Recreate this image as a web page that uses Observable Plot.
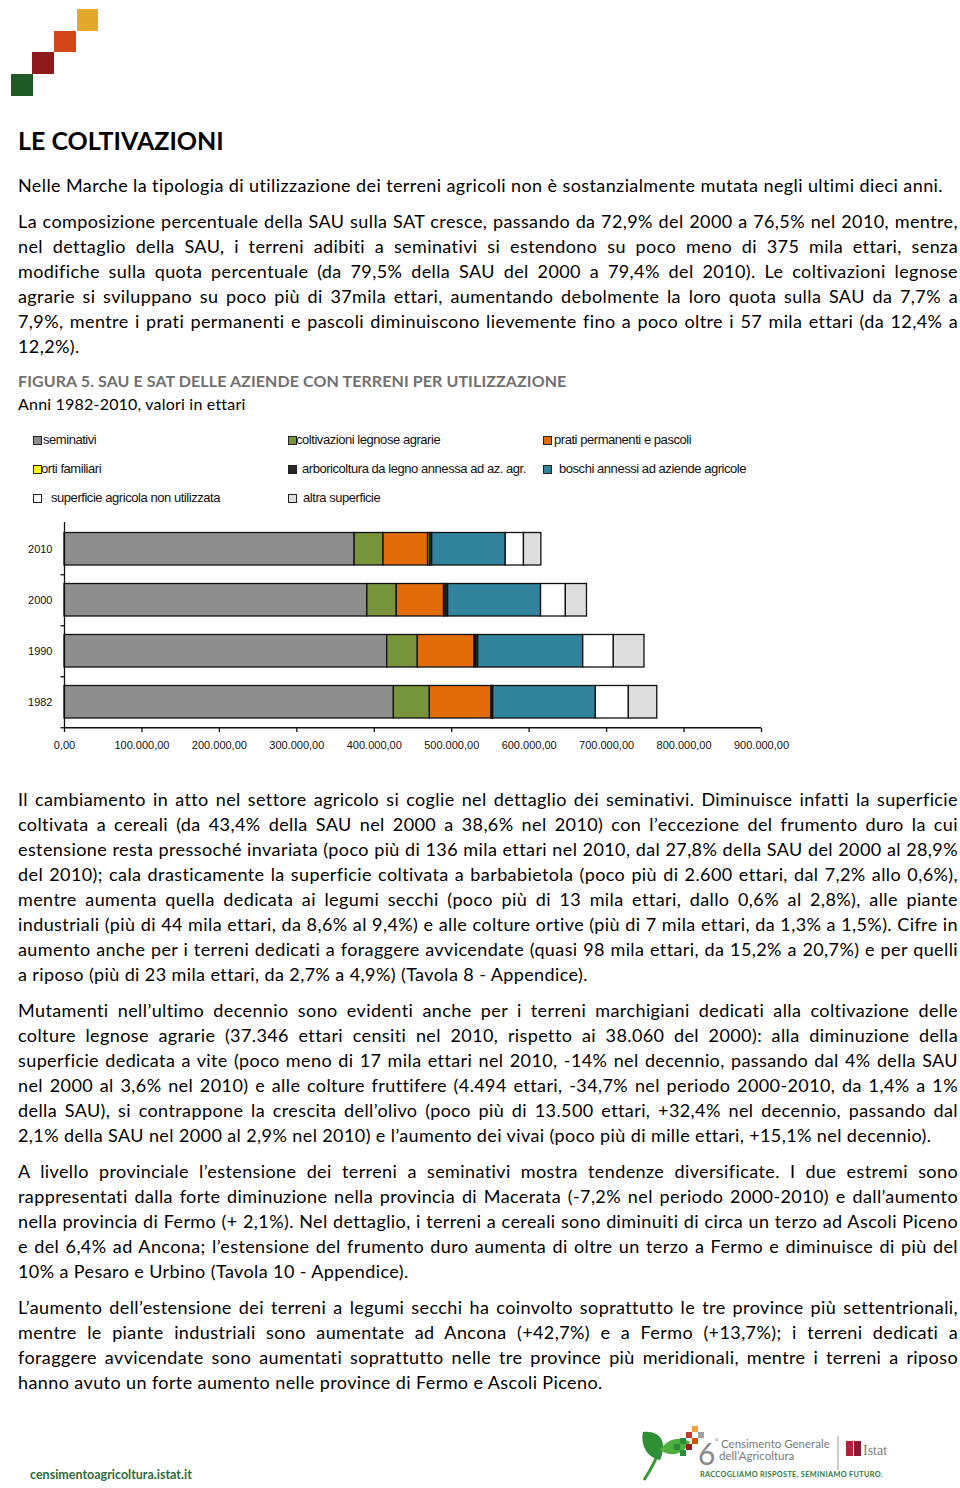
<!DOCTYPE html>
<html><head><meta charset="utf-8">
<script src="https://cdn.jsdelivr.net/npm/d3@7"></script>
<script src="https://cdn.jsdelivr.net/npm/@observablehq/plot@0.6"></script>
<style>
body{margin:0;background:#fff;}
#page{position:relative;width:960px;height:1488px;overflow:hidden;font-family:Lato,"Open Sans",sans-serif;color:#000;background:#fff;}
.ln{position:absolute;left:18px;width:940px;height:25px;line-height:25px;font-size:18px;letter-spacing:0.4px;}
.j{text-align:justify;text-align-last:justify;}
.h1{position:absolute;left:18px;top:124px;font-size:25px;font-weight:bold;line-height:32px;}
.ft{position:absolute;left:18px;top:371px;font-size:16px;font-weight:bold;color:#707070;line-height:20px;letter-spacing:0.1px;}
.fs{position:absolute;left:18px;top:394px;font-size:16px;line-height:20px;letter-spacing:0.2px;}
.lg{position:absolute;font-family:"Liberation Sans",Arial,sans-serif;font-size:13px;letter-spacing:-0.45px;line-height:16px;height:16px;white-space:nowrap;color:#111;}
.sw{position:absolute;width:7px;height:7px;border:1px solid #222;}
#chart{position:absolute;left:0;top:515px;}
</style></head>
<body><div id="page">
<svg style="position:absolute;left:0;top:0" width="120" height="110">
  <rect x="77" y="9" width="21" height="22" fill="#e2a92b"/>
  <rect x="54" y="31" width="22" height="21" fill="#d2461a"/>
  <rect x="32" y="52" width="22" height="22" fill="#8e1b1c"/>
  <rect x="11" y="74" width="22" height="22" fill="#1f5b24"/>
</svg>
<div class="h1">LE COLTIVAZIONI</div>
<div class="ft">FIGURA 5. SAU E SAT DELLE AZIENDE CON TERRENI PER UTILIZZAZIONE</div>
<div class="fs">Anni 1982-2010, valori in ettari</div>
<div id="chart"></div>
<div style="position:absolute;left:30px;top:1467px;font-family:Lato,sans-serif;font-weight:bold;font-size:12.5px;color:#2c6b3c;">censimentoagricoltura.istat.it</div>
<svg style="position:absolute;left:630px;top:1420px" width="270" height="68">
  <path d="M14 60 C 22 48, 26 40, 30 28" stroke="#3b9a3a" stroke-width="3" fill="none"/>
  <path d="M13 12 C 30 10, 38 22, 30 40 C 18 38, 10 26, 13 12 Z" fill="#2f8f34"/>
  <path d="M30 30 C 38 18, 50 16, 60 22 C 54 34, 42 38, 30 30 Z" fill="#4caf3e"/>
  <rect x="56" y="12" width="6" height="6" fill="#c0392b"/><rect x="62" y="6" width="6" height="6" fill="#e9a23b"/>
  <rect x="50" y="18" width="6" height="6" fill="#2e8b3a"/><rect x="56" y="24" width="6" height="6" fill="#9b1c1c"/>
  <rect x="44" y="24" width="6" height="6" fill="#2e8b3a"/><rect x="62" y="18" width="6" height="6" fill="#d35400"/>
  <rect x="50" y="30" width="6" height="6" fill="#2e8b3a"/><rect x="68" y="12" width="6" height="6" fill="#a0a0a0"/>
  <text x="68" y="45" font-family="Lato,sans-serif" font-size="30" fill="#8a8a8a">6</text>
  <text x="85" y="24" font-family="Lato,sans-serif" font-size="8" fill="#7a7a7a">°</text>
  <text x="91" y="28" font-family="Lato,sans-serif" font-size="11.5" fill="#7a7a7a">Censimento Generale</text>
  <text x="89" y="40" font-family="Lato,sans-serif" font-size="11.5" fill="#7a7a7a">dell’Agricoltura</text>
  <line x1="208" y1="16" x2="208" y2="50" stroke="#9a9a9a" stroke-width="1"/>
  <rect x="216" y="21" width="7" height="15" fill="#b3223a"/><rect x="224" y="21" width="7" height="15" fill="#8c1a2e"/>
  <text x="233" y="35" font-family="'Liberation Serif',serif" font-size="14" fill="#7a7a7a">Istat</text>
  <text x="70" y="57" font-family="Lato,sans-serif" font-weight="bold" font-size="7.3" fill="#2c7a3a" letter-spacing="0.35">RACCOGLIAMO RISPOSTE, SEMINIAMO FUTURO.</text>
</svg>
</div>
<script>
// ---------- chart data ----------
const years = ["2010", "2000", "1990", "1982"];
const categories = [
  "seminativi",
  "coltivazioni legnose agrarie",
  "prati permanenti e pascoli",
  "orti familiari",
  "arboricoltura da legno annessa ad az. agr.",
  "boschi annessi ad aziende agricole",
  "superficie agricola non utilizzata",
  "altra superficie"
];
const colors = ["#8e8e8e", "#77933c", "#e36c0a", "#ffff00", "#262626", "#31849b", "#ffffff", "#dedede"];
const seminativi    = [374600, 391000, 416700, 425300];
const legnose       = [37346, 38060, 39500, 46500];
const prati         = [57500, 61000, 73200, 79600];
const orti          = [2300, 1800, 1600, 1000];
const arboricoltura = [3000, 3500, 3200, 1200];
const boschi        = [95000, 120000, 135600, 132500];
const nonUtilizzata = [23500, 32000, 39500, 42600];
const altra         = [22500, 27300, 39600, 36700];
const xTicks = [0, 100000, 200000, 300000, 400000, 500000, 600000, 700000, 800000, 900000];

// ---------- text ----------
const para1 = ["Nelle Marche la tipologia di utilizzazione dei terreni agricoli non è sostanzialmente mutata negli ultimi dieci anni."];
const para2 = [
 "La composizione percentuale della SAU sulla SAT cresce, passando da 72,9% del 2000 a 76,5% nel 2010, mentre,",
 "nel dettaglio della SAU, i terreni adibiti a seminativi si estendono su poco meno di 375 mila ettari, senza",
 "modifiche sulla quota percentuale (da 79,5% della SAU del 2000 a 79,4% del 2010). Le coltivazioni legnose",
 "agrarie si sviluppano su poco più di 37mila ettari, aumentando debolmente la loro quota sulla SAU da 7,7% a",
 "7,9%, mentre i prati permanenti e pascoli diminuiscono lievemente fino a poco oltre i 57 mila ettari (da 12,4% a",
 "12,2%)."];
const paraA = [
 "Il cambiamento in atto nel settore agricolo si coglie nel dettaglio dei seminativi. Diminuisce infatti la superficie",
 "coltivata a cereali (da 43,4% della SAU nel 2000 a 38,6% nel 2010) con l’eccezione del frumento duro la cui",
 "estensione resta pressoché invariata (poco più di 136 mila ettari nel 2010, dal 27,8% della SAU del 2000 al 28,9%",
 "del 2010); cala drasticamente la superficie coltivata a barbabietola (poco più di 2.600 ettari, dal 7,2% allo 0,6%),",
 "mentre aumenta quella dedicata ai legumi secchi (poco più di 13 mila ettari, dallo 0,6% al 2,8%), alle piante",
 "industriali (più di 44 mila ettari, da 8,6% al 9,4%) e alle colture ortive (più di 7 mila ettari, da 1,3% a 1,5%). Cifre in",
 "aumento anche per i terreni dedicati a foraggere avvicendate (quasi 98 mila ettari, da 15,2% a 20,7%) e per quelli",
 "a riposo (più di 23 mila ettari, da 2,7% a 4,9%) (Tavola 8 - Appendice)."];
const paraB = [
 "Mutamenti nell’ultimo decennio sono evidenti anche per i terreni marchigiani dedicati alla coltivazione delle",
 "colture legnose agrarie (37.346 ettari censiti nel 2010, rispetto ai 38.060 del 2000): alla diminuzione della",
 "superficie dedicata a vite (poco meno di 17 mila ettari nel 2010, -14% nel decennio, passando dal 4% della SAU",
 "nel 2000 al 3,6% nel 2010) e alle colture fruttifere (4.494 ettari, -34,7% nel periodo 2000-2010, da 1,4% a 1%",
 "della SAU), si contrappone la crescita dell’olivo (poco più di 13.500 ettari, +32,4% nel decennio, passando dal",
 "2,1% della SAU nel 2000 al 2,9% nel 2010) e l’aumento dei vivai (poco più di mille ettari, +15,1% nel decennio)."];
const paraC = [
 "A livello provinciale l’estensione dei terreni a seminativi mostra tendenze diversificate. I due estremi sono",
 "rappresentati dalla forte diminuzione nella provincia di Macerata (-7,2% nel periodo 2000-2010) e dall’aumento",
 "nella provincia di Fermo (+ 2,1%). Nel dettaglio, i terreni a cereali sono diminuiti di circa un terzo ad Ascoli Piceno",
 "e del 6,4% ad Ancona; l’estensione del frumento duro aumenta di oltre un terzo a Fermo e diminuisce di più del",
 "10% a Pesaro e Urbino (Tavola 10 - Appendice)."];
const paraD = [
 "L’aumento dell’estensione dei terreni a legumi secchi ha coinvolto soprattutto le tre province più settentrionali,",
 "mentre le piante industriali sono aumentate ad Ancona (+42,7%) e a Fermo (+13,7%); i terreni dedicati a",
 "foraggere avvicendate sono aumentati soprattutto nelle tre province più meridionali, mentre i terreni a riposo",
 "hanno avuto un forte aumento nelle province di Fermo e Ascoli Piceno."];

const page = document.getElementById("page");
function addPara(lines, firstCenter) {
  lines.forEach((t, i) => {
    const d = document.createElement("div");
    d.className = "ln" + (i < lines.length - 1 ? " j" : "");
    d.style.top = (firstCenter + 25 * i - 12.5) + "px";
    d.textContent = t;
    page.appendChild(d);
    // keep each line on one row: tighten letter spacing if it would wrap
    let ls = 0.4;
    while (d.scrollHeight > 30 && ls > -1) { ls -= 0.05; d.style.letterSpacing = ls + "px"; }
  });
}
addPara(para1, 185);
addPara(para2, 221);
addPara(paraA, 799);
addPara(paraB, 1010);
addPara(paraC, 1171);
addPara(paraD, 1307);

// ---------- legend (HTML) ----------
const legendCols = [33, 288, 543];
const legendRows = [440, 469, 498];
const legendGap = [10, 8, 11, 8, 14, 16, 18, 15];
categories.forEach((c, i) => {
  const cx = legendCols[i % 3], cy = legendRows[Math.floor(i / 3)];
  const s = document.createElement("div");
  s.className = "sw";
  s.style.left = cx + "px"; s.style.top = (cy - 4.5) + "px"; s.style.background = colors[i];
  page.appendChild(s);
  const t = document.createElement("div");
  t.className = "lg";
  t.style.left = (cx + legendGap[i]) + "px"; t.style.top = (cy - 8) + "px";
  t.textContent = c;
  page.appendChild(t);
});

// ---------- chart ----------
const series = [seminativi, legnose, prati, orti, arboricoltura, boschi, nonUtilizzata, altra];
const rows = years.flatMap((y, i) => categories.map((c, k) => ({year: y, cat: c, value: series[k][i]})));
const it = d3.formatLocale({decimal: ",", thousands: ".", grouping: [3], currency: ["", ""]});
const fmt = it.format(",.2f");
const half = 25.75;

const chart = Plot.plot({
  width: 960, height: 243,
  marginLeft: 64, marginRight: 199, marginTop: 7, marginBottom: 30,
  style: {fontFamily: "'Liberation Sans', Arial, sans-serif", fontSize: "11px", color: "#111", background: "transparent"},
  x: {domain: [0, 900000]},
  y: {domain: years, padding: 0},
  color: {domain: categories, range: colors},
  marks: [
    Plot.barX(rows, Plot.stackX({x: "value", y: "year", fill: "cat", stroke: "#111", strokeWidth: 1.3, insetTop: 9.5, insetBottom: 9})),
    Plot.ruleX([0], {stroke: "#111", strokeWidth: 1.3}),
    Plot.ruleY(["1982"], {x1: 0, x2: 900000, dy: half, stroke: "#111", strokeWidth: 1.3}),
    Plot.ruleY(years, {x1: -4500, x2: 0, dy: half, stroke: "#111", strokeWidth: 1.3}),
    Plot.axisX({ticks: xTicks, tickFormat: fmt, tickSize: 4, tickPadding: 9, stroke: "#111", strokeWidth: 1.3, label: null}),
    Plot.axisY({tickSize: 0, tickPadding: 12, label: null})
  ]
});
document.getElementById("chart").appendChild(chart);
</script>
</body></html>
